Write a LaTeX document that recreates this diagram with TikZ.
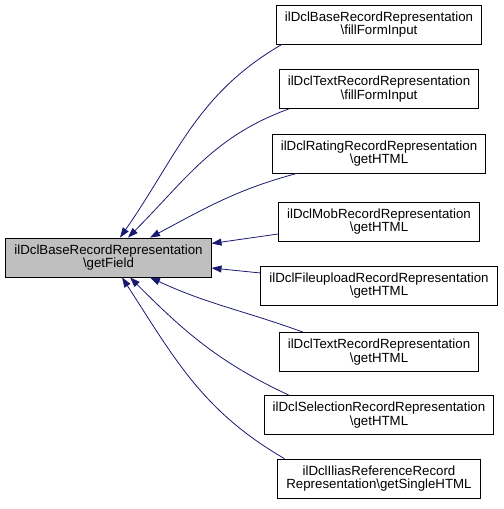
\documentclass[tikz,border=0pt]{standalone}
\usepackage{fontspec}
\setmainfont{Liberation Sans}
\usetikzlibrary{arrows.meta}

\definecolor{aristablue}{HTML}{191970}
\definecolor{nodogris}{HTML}{BFBFBF}

\tikzset{
  funcion/.style={draw=black, line width=0.8bp, rectangle, align=center,
    minimum height=39bp, inner xsep=8.5bp, inner ysep=2bp,
    font=\fontsize{13.33}{13.8}\selectfont},
  llamada/.style={draw=aristablue, line width=0.8bp,
    -{Triangle[length=10bp,width=7bp]}}
}

\begin{document}
\begin{tikzpicture}[x=1bp,y=1bp]
            % Caja fija del dibujo (504 x 509)
            \useasboundingbox (0,0) rectangle (504,509);

            % Columna de las funciones que llaman
            \def\cx{379}

            % Funcion llamada (gris)
            \node[funcion, fill=nodogris] (getfield) at (108.5,251.5)
                {ilDclBaseRecordRepresentation\\\textbackslash getField};

            % Funciones que llaman
            \node[funcion] (basefill) at (\cx,484.5)
                {ilDclBaseRecordRepresentation\\\textbackslash fillFormInput};
            \node[funcion] (textfill) at (\cx,420)
                {ilDclTextRecordRepresentation\\\textbackslash fillFormInput};
            \node[funcion] (ratinghtml) at (\cx,355.5)
                {ilDclRatingRecordRepresentation\\\textbackslash getHTML};
            \node[funcion] (mobhtml) at (\cx,287.5)
                {ilDclMobRecordRepresentation\\\textbackslash getHTML};
            \node[funcion] (uploadhtml) at (\cx,223.5)
                {ilDclFileuploadRecordRepresentation\\\textbackslash getHTML};
            \node[funcion] (texthtml) at (\cx,157)
                {ilDclTextRecordRepresentation\\\textbackslash getHTML};
            \node[funcion] (selecthtml) at (\cx,94)
                {ilDclSelectionRecordRepresentation\\\textbackslash getHTML};
            \node[funcion] (iliashtml) at (\cx,30.5)
                {ilDclIliasReferenceRecord\\Representation\textbackslash getSingleHTML};

            % Llamadas hacia getField (arriba)
            \draw[llamada] ([xshift=6bp]basefill.south west) to[out=210,in=55] ([xshift=11.5bp]getfield.north);
            \draw[llamada] ([xshift=10bp]textfill.south west) to[out=200,in=45] ([xshift=19.5bp]getfield.north);
            \draw[llamada] ([xshift=25bp]ratinghtml.south west) to[out=195,in=28] ([xshift=41.5bp]getfield.north);

            % Llamadas hacia getField (lado derecho)
            \draw[llamada] ([yshift=-12.5bp]mobhtml.west) -- ([yshift=14bp]getfield.east);
            \draw[llamada] ([yshift=12.5bp]uploadhtml.west) -- ([yshift=-10.5bp]getfield.east);

            % Llamadas hacia getField (abajo)
            \draw[llamada] ([xshift=24bp]texthtml.north west) to[out=160,in=-25] ([xshift=41.5bp]getfield.south);
            \draw[llamada] ([xshift=25bp]selecthtml.north west) to[out=155,in=-45] ([xshift=21.5bp]getfield.south);
            \draw[llamada] ([xshift=7bp]iliashtml.north west) to[out=150,in=-57] ([xshift=13.5bp]getfield.south);
        \end{tikzpicture}
\end{document}
